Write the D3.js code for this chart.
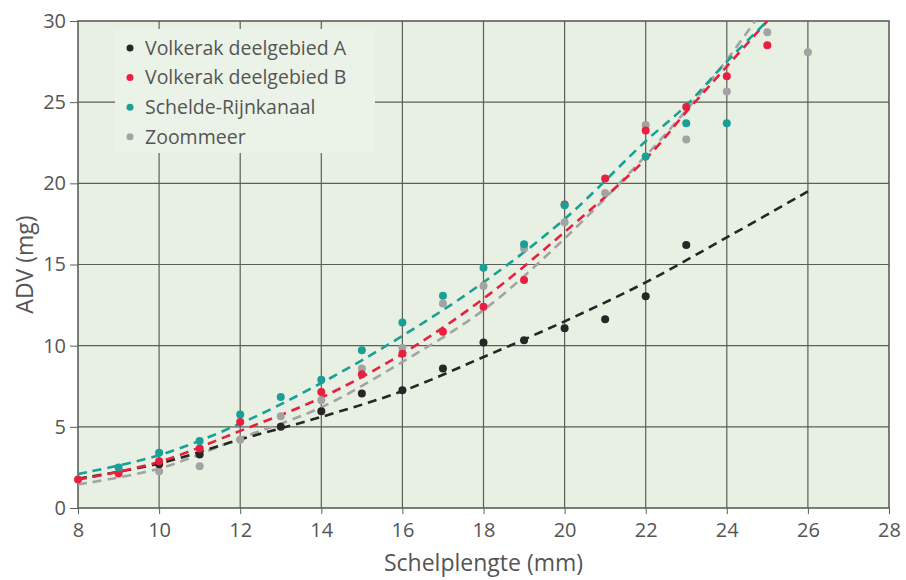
<!DOCTYPE html>
<html>
<head>
<meta charset="utf-8">
<script src="https://cdn.jsdelivr.net/npm/d3@7"></script>
<style>
  body { margin: 0; background: #fff; }
  text { font-family: "Open Sans", sans-serif; fill: #555; }
</style>
</head>
<body>
<div id="chart"></div>
<script>
// shell lengths (mm) on the x axis
const lengths = [8, 9, 10, 11, 12, 13, 14, 15, 16, 17, 18, 19, 20, 21, 22, 23, 24, 25, 26];

// measured ADV (mg) per length, null where there is no point
const volkerakA = [null, null, 2.7, 3.3, null, 5.0, 5.96, 7.05, 7.26, 8.6, 10.2, 10.34, 11.08, 11.63, 13.05, 16.2, null, null, null];
const volkerakB = [1.75, 2.12, 2.88, 3.66, 5.3, null, 7.15, 8.24, 9.5, 10.85, 12.4, 14.04, 18.7, 20.3, 23.25, 24.7, 26.6, 28.5, null];
const schelde = [null, 2.49, 3.4, 4.13, 5.76, 6.84, 7.9, 9.72, 11.43, 13.07, 14.8, 16.24, 18.65, null, 21.65, 23.7, 23.7, null, null];
const zoommeer = [null, null, 2.26, 2.57, 4.2, 5.65, 6.64, 8.6, 9.86, 12.6, 13.67, 15.99, 17.6, 19.4, 23.6, 22.7, 25.65, 29.3, 28.08];

// dashed trend lines as [length, ADV]
const trendA = [[8, 1.8], [10, 2.74], [12, 4.22], [14, 5.61], [16, 7.2], [18, 9.3], [20, 11.5], [22, 13.9], [24, 16.67], [26, 19.5]];
const trendB = [[8, 1.75], [10, 2.84], [12, 4.75], [14, 6.8], [16, 9.5], [18, 12.9], [20, 17.0], [22, 21.5], [23, 24.4], [24, 27.2], [25, 30]];
const trendS = [[8, 2.1], [10, 3.25], [12, 5.2], [14, 7.7], [16, 10.6], [18, 13.9], [20, 17.8], [22, 22.6], [23, 24.8], [24, 27.5], [25, 30]];
const trendZ = [[8, 1.45], [10, 2.43], [12, 4.3], [14, 6.2], [16, 9.0], [18, 12.2], [20, 16.6], [22, 21.7], [23, 24.5], [24, 27.6], [24.7, 30]];

const names = ["Volkerak deelgebied A", "Volkerak deelgebied B", "Schelde-Rijnkanaal", "Zoommeer"];
const colors = ["#262626", "#e8203f", "#19a096", "#a3a3a3"];

const xTicks = [8, 10, 12, 14, 16, 18, 20, 22, 24, 26, 28];
const yTicks = [0, 5, 10, 15, 20, 25, 30];

const width = 906, height = 580;
const margin = {top: 21, right: 17, bottom: 72, left: 78};

let svg = d3.select("#chart").append("svg")
    .attr("width", width)
    .attr("height", height);

let x = d3.scaleLinear().domain([8, 28]).range([margin.left, width - margin.right]);
let y = d3.scaleLinear().domain([0, 30]).range([height - margin.bottom, margin.top]);

// plot background
svg.append("rect")
    .attr("x", x(8)).attr("y", y(30))
    .attr("width", x(28) - x(8)).attr("height", y(0) - y(30))
    .attr("fill", "#e7f0e3");

// grid
svg.append("g").selectAll("line")
    .data(xTicks.slice(1, -1))
    .enter().append("line")
    .attr("x1", d => x(d)).attr("x2", d => x(d))
    .attr("y1", y(30)).attr("y2", y(0))
    .attr("stroke", "#596057").attr("stroke-width", 1.2);
svg.append("g").selectAll("line")
    .data(yTicks.slice(1, -1))
    .enter().append("line")
    .attr("x1", x(8)).attr("x2", x(28))
    .attr("y1", d => y(d)).attr("y2", d => y(d))
    .attr("stroke", "#596057").attr("stroke-width", 1.2);

// axes
svg.append("g")
    .attr("transform", `translate(0,${y(0)})`)
    .call(d3.axisBottom(x).tickValues(xTicks).tickSize(6).tickPadding(9))
    .call(g => g.select(".domain").remove())
    .call(g => g.selectAll("line").attr("stroke", "#596057"))
    .call(g => g.selectAll("text").attr("font-size", 20).attr("fill", "#555"));
svg.append("g")
    .attr("transform", `translate(${x(8)},0)`)
    .call(d3.axisLeft(y).tickValues(yTicks).tickSize(8).tickPadding(4))
    .call(g => g.select(".domain").remove())
    .call(g => g.selectAll("line").attr("stroke", "#596057"))
    .call(g => g.selectAll("text").attr("font-size", 20).attr("fill", "#555"));

// frame
svg.append("rect")
    .attr("x", x(8)).attr("y", y(30))
    .attr("width", x(28) - x(8)).attr("height", y(0) - y(30))
    .attr("fill", "none")
    .attr("stroke", "#596057").attr("stroke-width", 1.6);

// legend box covers the grid
let legend = svg.append("g");
legend.append("rect")
    .attr("x", 115).attr("y", 29)
    .attr("width", 260).attr("height", 124)
    .attr("fill", "#ebf3e8");
names.forEach(function (name, i) {
    legend.append("circle")
        .attr("cx", 130).attr("cy", 48 + i * 29.6)
        .attr("r", 3.5).attr("fill", colors[i]);
    legend.append("text")
        .attr("x", 145).attr("y", 48 + i * 29.6)
        .attr("dy", "0.35em")
        .attr("font-size", 19.5)
        .text(name);
});

// trend lines
let line = d3.line()
    .x(d => x(d[0]))
    .y(d => y(d[1]))
    .curve(d3.curveCatmullRom);
let plot = svg.append("g");
[trendZ, trendA, trendB, trendS].forEach(function (t, i) {
    let c = [colors[3], colors[0], colors[1], colors[2]][i];
    plot.append("path")
        .datum(t)
        .attr("d", line)
        .attr("fill", "none")
        .attr("stroke", c)
        .attr("stroke-width", 2.6)
        .attr("stroke-dasharray", "9,6");
});

// points
function drawPoints(values, color) {
    plot.append("g").selectAll("circle")
        .data(lengths.map((l, i) => [l, values[i]]).filter(d => d[1] !== null))
        .enter()
        .append("circle")
        .attr("cx", d => x(d[0]))
        .attr("cy", d => y(d[1]))
        .attr("r", 4)
        .attr("fill", color);
}
drawPoints(zoommeer, colors[3]);
drawPoints(volkerakA, colors[0]);
drawPoints(volkerakB, colors[1]);
drawPoints(schelde, colors[2]);

// axis titles
svg.append("text")
    .attr("x", (x(8) + x(28)) / 2).attr("y", 571)
    .attr("text-anchor", "middle")
    .attr("font-size", 23)
    .text("Schelplengte (mm)");
svg.append("text")
    .attr("transform", `translate(33,${y(15)}) rotate(-90)`)
    .attr("text-anchor", "middle")
    .attr("font-size", 23)
    .text("ADV (mg)");
</script>
</body>
</html>
